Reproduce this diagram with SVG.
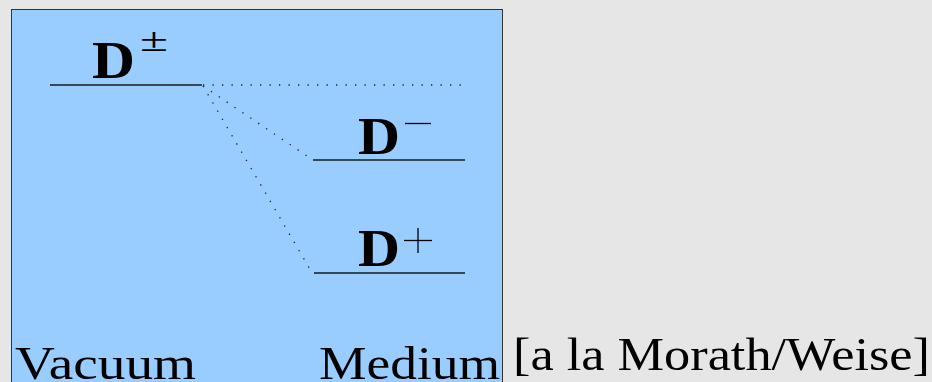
<svg xmlns="http://www.w3.org/2000/svg" width="932" height="382" viewBox="0 0 932 382">
<style>
.lvl{stroke:#1a1a1a;stroke-width:1.3;fill:none}
.dot{stroke:#223;stroke-width:1.3;stroke-dasharray:1.3 8.2;fill:none}
.b{font-family:"Liberation Serif",serif;font-weight:bold;fill:#000}
.t{font-family:"Liberation Serif",serif;fill:#000}
</style>
<rect x="0" y="0" width="932" height="382" fill="#e6e6e6"/>
<rect id="panel" x="11.5" y="9.5" width="491" height="380" fill="#99ccff" stroke="#333" stroke-width="1"/>
<g id="Dpm">
<line class="lvl" x1="50" y1="85" x2="202" y2="85" stroke="#444"/>
<text class="b" x="92" y="78" font-size="52" textLength="43" lengthAdjust="spacingAndGlyphs">D</text>
<text class="t" x="140" y="51" font-size="34" textLength="28" lengthAdjust="spacingAndGlyphs">±</text>
</g>
<g id="Dminus">
<line class="lvl" x1="313" y1="160" x2="465" y2="160"/>
<text class="b" x="358" y="154" font-size="52" textLength="42" lengthAdjust="spacingAndGlyphs">D</text>
<line x1="405" y1="123.5" x2="431" y2="123.5" stroke="#000" stroke-width="1.3"/>
</g>
<g id="Dplus">
<line class="lvl" x1="314" y1="273" x2="465" y2="273"/>
<text class="b" x="358" y="266" font-size="52" textLength="42" lengthAdjust="spacingAndGlyphs">D</text>
<line x1="404" y1="240.5" x2="432" y2="240.5" stroke="#000" stroke-width="1.3"/>
<line x1="418" y1="228" x2="418" y2="253" stroke="#000" stroke-width="1.3"/>
</g>
<g id="connectors">
<line class="dot" x1="203" y1="85" x2="463" y2="85"/>
<line class="dot" x1="203" y1="86" x2="313" y2="160"/>
<line class="dot" x1="203" y1="86" x2="311" y2="271"/>
</g>
<g id="labels">
<text class="t" x="15" y="379" font-size="47" textLength="181" lengthAdjust="spacingAndGlyphs">Vacuum</text>
<text class="t" x="319" y="379" font-size="47" textLength="181" lengthAdjust="spacingAndGlyphs">Medium</text>
<text class="t" x="513" y="370" font-size="47" textLength="417" lengthAdjust="spacingAndGlyphs">[a la Morath/Weise]</text>
</g>
</svg>
